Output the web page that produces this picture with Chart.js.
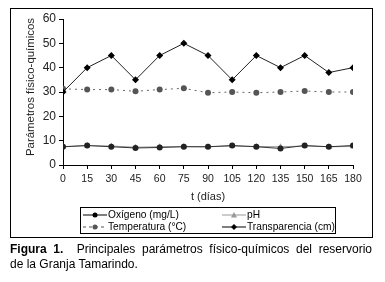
<!DOCTYPE html>
<html>
<head>
<meta charset="utf-8">
<script src="https://cdn.jsdelivr.net/npm/chart.js@4"></script>
<style>
    body { margin: 0; background: #fff; width: 385px; height: 282px; position: relative; overflow: hidden;
           font-family: "Liberation Sans", Arial, sans-serif; color: #000; }
    #frame { position: absolute; left: 10px; top: 8px; width: 361px; height: 228px; border: 1px solid #000; }
    #chartWrap { position: absolute; left: 0; top: 0; width: 385px; height: 205px; }
    #yTitle { position: absolute; left: 30px; top: 87px; font-size: 11.4px; color: #222; white-space: nowrap;
              transform: translate(-50%, -50%) rotate(-90deg); }
    #xTitle { position: absolute; left: 208px; top: 196px; font-size: 11px; color: #222; white-space: nowrap;
              transform: translate(-50%, -50%); }
    #legend { position: absolute; left: 80px; top: 207px; width: 254px; height: 25px; border: 1px solid #000;
              font-size: 10.2px; line-height: 11px; }
    .item { position: absolute; display: flex; align-items: center; white-space: nowrap; }
    .item svg { margin-right: 1px; }
    #caption { position: absolute; left: 10px; top: 242px; width: 362px; font-size: 12px; line-height: 15px; }
    #caption .first { text-align: justify; text-align-last: justify; }
</style>
</head>
<body>
<div id="frame"></div>
<div id="chartWrap"><canvas id="chart" width="385" height="205"></canvas></div>
<div id="yTitle">Parámetros físico-químicos</div>
<div id="xTitle">t (días)</div>
<div id="legend">
    <div class="item" style="left: 2px; top: 1px;">
        <svg width="24" height="10"><line x1="0" y1="5" x2="24" y2="5" stroke="#000" stroke-width="1"/><circle cx="12" cy="5" r="2.5" fill="#000"/></svg>Oxígeno (mg/L)
    </div>
    <div class="item" style="left: 2px; top: 13px;">
        <svg width="24" height="10"><line x1="0" y1="5" x2="24" y2="5" stroke="#555" stroke-width="1" stroke-dasharray="3,3"/><circle cx="12" cy="5" r="2.5" fill="#555"/></svg>Temperatura (°C)
    </div>
    <div class="item" style="left: 141px; top: 1px;">
        <svg width="24" height="10"><line x1="0" y1="5" x2="24" y2="5" stroke="#999" stroke-width="1"/><polygon points="12,2 15,7.5 9,7.5" fill="#999"/></svg>pH
    </div>
    <div class="item" style="left: 141px; top: 13px;">
        <svg width="24" height="10"><line x1="0" y1="5" x2="24" y2="5" stroke="#000" stroke-width="1"/><polygon points="12,2 15,5 12,8 9,5" fill="#000"/></svg>Transparencia (cm)
    </div>
</div>
<div id="caption">
    <div class="first"><b>Figura 1.</b>&nbsp; Principales parámetros físico-químicos del reservorio</div>
    <div>de la Granja Tamarindo.</div>
</div>

<script>
// dias de muestreo
const dias = [0, 15, 30, 45, 60, 75, 90, 105, 120, 135, 150, 165, 180];

const oxigeno = [7.5, 8, 7.5, 7, 7.2, 7.5, 7.5, 8, 7.5, 6.8, 8, 7.5, 8];
const temperatura = [31.3, 31, 31, 30.3, 31, 31.5, 29.7, 30, 29.7, 30, 30.4, 30, 30];
const ph = [7.5, 8, 7.8, 7.3, 7.5, 7.6, 7.5, 7.8, 7.6, 7.5, 7.8, 7.5, 7.6];
const transparencia = [30, 40, 45, 35, 45, 50, 45, 35, 45, 40, 45, 38, 40];

const yTicks = [0, 10, 20, 30, 40, 50, 60];

// where the plot area should sit on the page
const plotBox = { left: 63, right: 353, top: 19, bottom: 165 };

function toPoints(values) {
    return dias.map((d, i) => ({ x: d, y: values[i] }));
}

const fontFamily = '"Liberation Sans", Arial, sans-serif';

const chart = new Chart(document.getElementById('chart'), {
    type: 'line',
    data: {
        datasets: [
            {
                label: 'Transparencia (cm)',
                data: toPoints(transparencia),
                borderColor: '#222',
                borderWidth: 1,
                pointStyle: 'rectRot',
                pointRadius: 3.5,
                pointBackgroundColor: '#000',
                pointBorderColor: '#000',
                pointBorderWidth: 0
            },
            {
                label: 'Temperatura (°C)',
                data: toPoints(temperatura),
                borderColor: '#666',
                borderWidth: 1,
                borderDash: [2, 4],
                pointStyle: 'circle',
                pointRadius: 3,
                pointBackgroundColor: '#555',
                pointBorderColor: '#555',
                pointBorderWidth: 0
            },
            {
                label: 'Oxígeno (mg/L)',
                data: toPoints(oxigeno),
                borderColor: '#333',
                borderWidth: 1,
                pointStyle: 'circle',
                pointRadius: 3,
                pointBackgroundColor: '#222',
                pointBorderColor: '#222',
                pointBorderWidth: 0
            },
            {
                label: 'pH',
                data: toPoints(ph),
                borderColor: '#999',
                borderWidth: 1,
                pointStyle: 'triangle',
                pointRadius: 3.5,
                pointBackgroundColor: '#999',
                pointBorderColor: '#999',
                pointBorderWidth: 0
            }
        ]
    },
    options: {
        responsive: false,
        animation: false,
        layout: { padding: { top: 19, right: 32, left: 0, bottom: 0 } },
        plugins: {
            legend: { display: false },
            tooltip: { enabled: false }
        },
        scales: {
            x: {
                type: 'linear',
                min: 0,
                max: 180,
                afterBuildTicks: scale => { scale.ticks = dias.map(v => ({ value: v })); },
                ticks: { color: '#222', font: { family: fontFamily, size: 10.5 }, padding: 4, maxRotation: 0, autoSkip: false },
                grid: { drawOnChartArea: false, drawTicks: true, tickLength: 4, tickColor: '#000' },
                border: { display: true, color: '#000', width: 1 }
            },
            y: {
                min: 0,
                max: 60,
                afterBuildTicks: scale => { scale.ticks = yTicks.map(v => ({ value: v })); },
                afterFit: scale => { scale.width = 63; },
                ticks: { color: '#222', font: { family: fontFamily, size: 12 }, padding: 3 },
                grid: { drawOnChartArea: false, drawTicks: true, tickLength: 4, tickColor: '#000' },
                border: { display: true, color: '#000', width: 1 }
            }
        }
    }
});

// nudge the padding so the plot area lands where the original has it
const pad = chart.options.layout.padding;
for (let i = 0; i < 3; i++) {
    const a = chart.chartArea;
    pad.top = Math.max(0, pad.top + plotBox.top - a.top);
    pad.bottom = Math.max(0, pad.bottom + a.bottom - plotBox.bottom);
    pad.left = Math.max(0, pad.left + plotBox.left - a.left);
    pad.right = Math.max(0, pad.right + a.right - plotBox.right);
    chart.update();
}
</script>
</body>
</html>
